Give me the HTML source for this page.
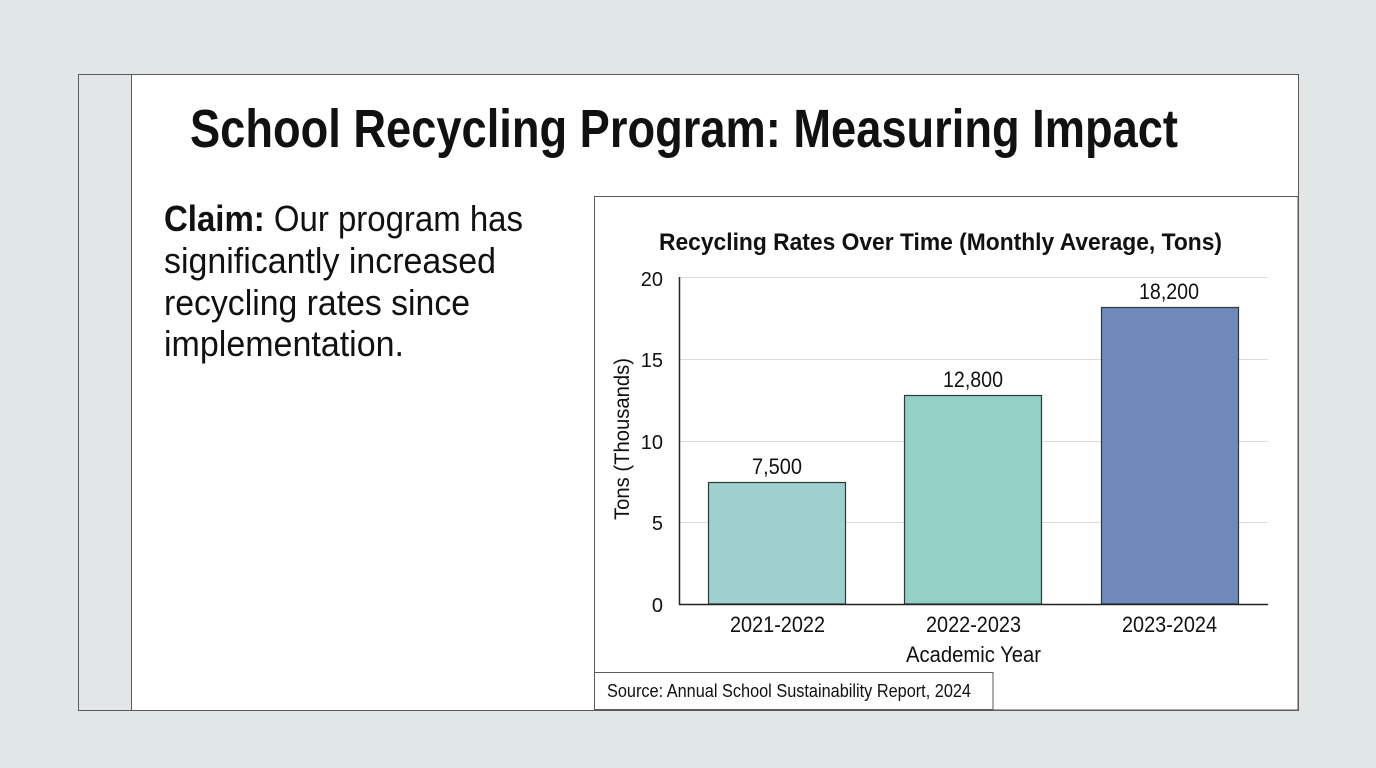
<!DOCTYPE html>
<html>
<head>
<meta charset="utf-8">
<style>
  html,body{margin:0;padding:0;background:#e1e6e6;}
  svg{display:block;}
  text{font-family:"Liberation Sans Narrow","Liberation Sans",sans-serif;fill:#111;}
</style>
</head>
<body>
<svg width="1376" height="768" viewBox="0 0 1376 768" xmlns="http://www.w3.org/2000/svg">
  <rect x="0" y="0" width="1376" height="768" fill="#e1e6e6"/>
  <!-- card -->
  <rect x="78.5" y="74.5" width="1220" height="636" fill="#ffffff" stroke="#5a5a5a" stroke-width="1"/>
  <rect x="79" y="75" width="52" height="635" fill="#e2e6e6"/>
  <line x1="131.5" y1="75" x2="131.5" y2="710" stroke="#5a5a5a" stroke-width="1"/>

  <!-- title -->
  <text x="190" y="147" font-size="54" font-weight="bold" textLength="988" lengthAdjust="spacingAndGlyphs">School Recycling Program: Measuring Impact</text>

  <!-- claim -->
  <text x="164" y="231" font-size="36" textLength="359" lengthAdjust="spacingAndGlyphs"><tspan font-weight="bold">Claim:</tspan> Our program has</text>
  <text x="164" y="273" font-size="36" textLength="332" lengthAdjust="spacingAndGlyphs">significantly increased</text>
  <text x="164" y="315" font-size="36" textLength="306" lengthAdjust="spacingAndGlyphs">recycling rates since</text>
  <text x="164" y="356" font-size="36" textLength="240" lengthAdjust="spacingAndGlyphs">implementation.</text>

  <!-- chart box -->
  <rect x="594.5" y="196.5" width="703.5" height="513.5" fill="#ffffff" stroke="#5a5a5a" stroke-width="1"/>

  <text x="659" y="250" font-size="24" font-weight="bold" textLength="563" lengthAdjust="spacingAndGlyphs">Recycling Rates Over Time (Monthly Average, Tons)</text>

  <!-- gridlines -->
  <g stroke="#dcdcdc" stroke-width="1">
    <line x1="679" y1="277.5" x2="1268" y2="277.5"/>
    <line x1="679" y1="359.5" x2="1268" y2="359.5"/>
    <line x1="679" y1="441.5" x2="1268" y2="441.5"/>
    <line x1="679" y1="522.5" x2="1268" y2="522.5"/>
  </g>

  <!-- bars -->
  <rect x="708.5" y="482.5" width="137" height="121.5" fill="#a0cfd0" stroke="#2e3a3a" stroke-width="1.2"/>
  <rect x="904.5" y="395.5" width="137" height="208.5" fill="#93d0c6" stroke="#2e3a3a" stroke-width="1.2"/>
  <rect x="1101.5" y="307.5" width="137" height="296.5" fill="#6f8aba" stroke="#2e3a3a" stroke-width="1.2"/>

  <!-- axes -->
  <line x1="679.5" y1="277" x2="679.5" y2="605" stroke="#222" stroke-width="1.5"/>
  <line x1="679" y1="604.5" x2="1268" y2="604.5" stroke="#222" stroke-width="1.5"/>

  <!-- y ticks -->
  <g font-size="20" text-anchor="end">
    <text x="663" y="286">20</text>
    <text x="663" y="367">15</text>
    <text x="663" y="449">10</text>
    <text x="663" y="530">5</text>
    <text x="663" y="612">0</text>
  </g>

  <!-- y axis title -->
  <text x="629" y="439" font-size="21" text-anchor="middle" transform="rotate(-90 629 439)" textLength="162" lengthAdjust="spacingAndGlyphs">Tons (Thousands)</text>

  <!-- value labels -->
  <text x="752" y="474" font-size="22" textLength="50" lengthAdjust="spacingAndGlyphs">7,500</text>
  <text x="943" y="387" font-size="22" textLength="60" lengthAdjust="spacingAndGlyphs">12,800</text>
  <text x="1139" y="299" font-size="22" textLength="60" lengthAdjust="spacingAndGlyphs">18,200</text>

  <!-- x labels -->
  <text x="730" y="632" font-size="22" textLength="95" lengthAdjust="spacingAndGlyphs">2021-2022</text>
  <text x="926" y="632" font-size="22" textLength="95" lengthAdjust="spacingAndGlyphs">2022-2023</text>
  <text x="1122" y="632" font-size="22" textLength="95" lengthAdjust="spacingAndGlyphs">2023-2024</text>
  <text x="906" y="662" font-size="22" textLength="135" lengthAdjust="spacingAndGlyphs">Academic Year</text>

  <!-- source box -->
  <rect x="594.5" y="672.5" width="398.5" height="37" fill="#ffffff" stroke="#5a5a5a" stroke-width="1"/>
  <text x="607" y="697" font-size="18" textLength="364" lengthAdjust="spacingAndGlyphs">Source: Annual School Sustainability Report, 2024</text>

  <!-- redraw card outline on top -->
  <rect x="78.5" y="74.5" width="1220" height="636" fill="none" stroke="#5a5a5a" stroke-width="1"/>
</svg>
</body>
</html>
